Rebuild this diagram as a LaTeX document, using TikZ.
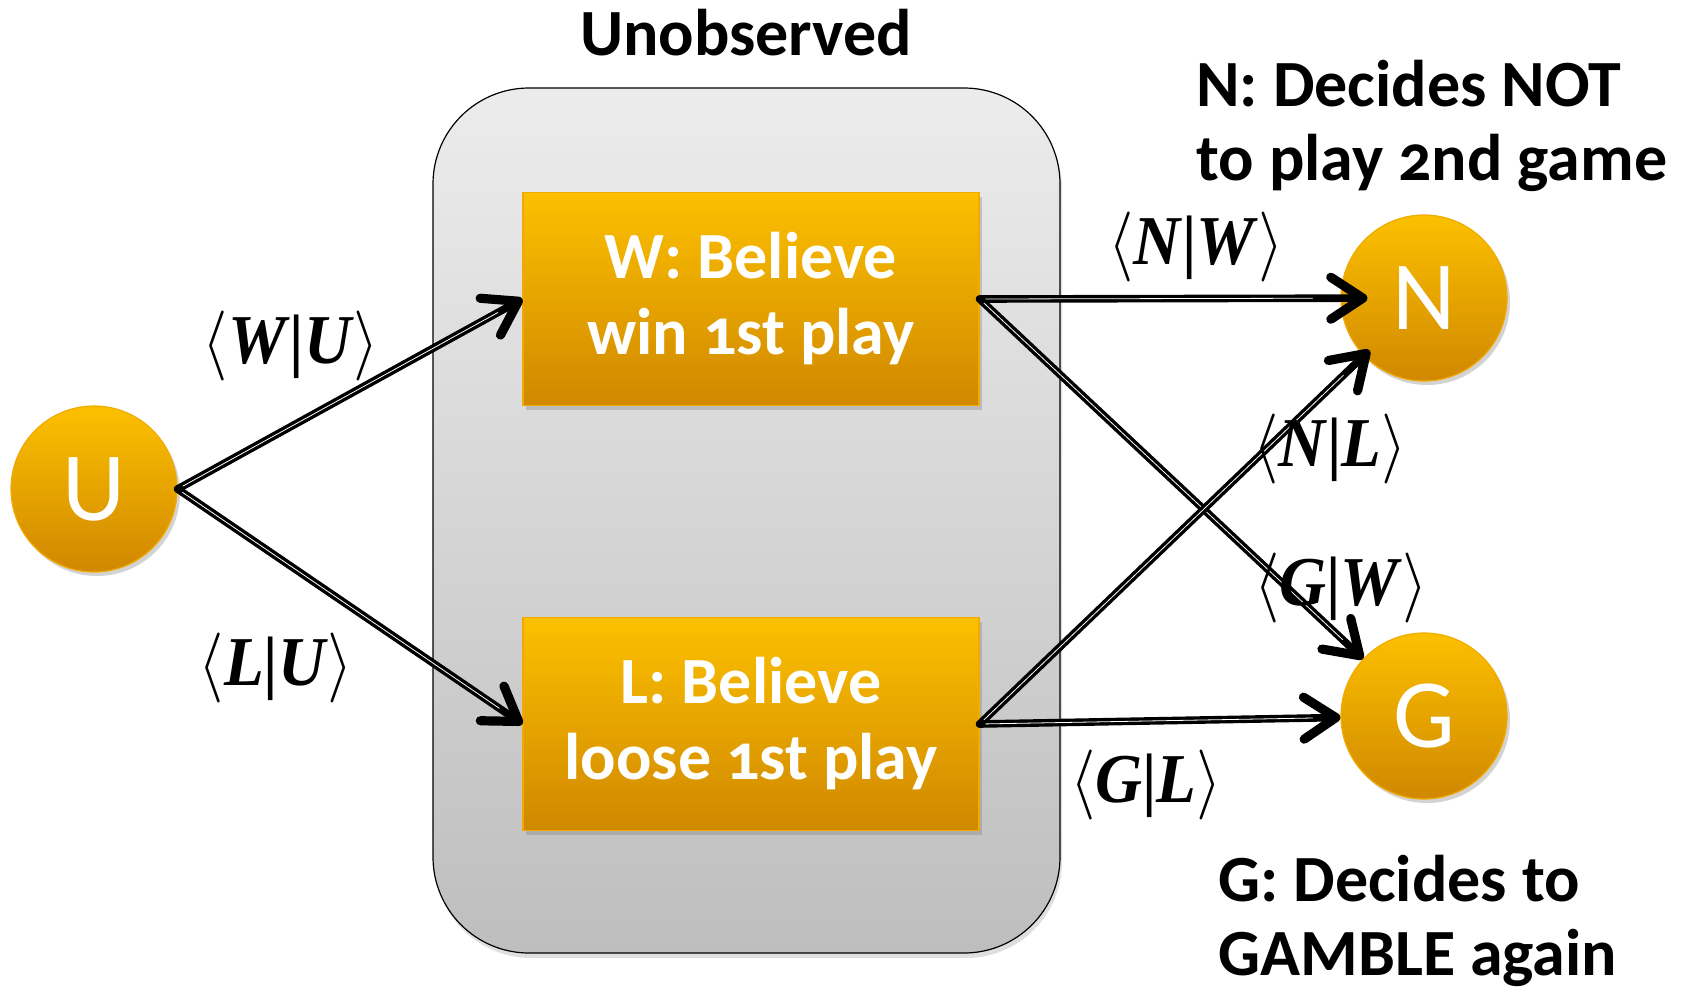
\RequirePackage{fix-cm}
\documentclass[tikz,border=0pt]{standalone}
\usepackage{fontspec}
\usepackage{graphicx}
\usetikzlibrary{arrows.meta}
\usetikzlibrary{shadows}
\setmainfont{Carlito}[Numbers=OldStyle]
\newfontfamily\probfont{Liberation Serif}
\definecolor{ambertop}{RGB}{252,192,0}
\definecolor{amberbot}{RGB}{208,136,0}
\definecolor{amberline}{RGB}{240,170,0}
\definecolor{greytop}{RGB}{236,236,236}
\definecolor{greybot}{RGB}{190,190,190}
\newcommand{\cnd}[2]{\scalebox{.93}[1]{$\langle$\textbf{\textit{#1}}\textbf{|}\textbf{\textit{#2}}$\rangle$}}

\begin{document}
\begin{tikzpicture}[x=0.5pt, y=-0.5pt,
  state/.style={rectangle, draw=amberline, line width=0.6pt, top color=ambertop, bottom color=amberbot,
    minimum width=228pt, minimum height=106.5pt, align=center, text=white,
    font=\fontsize{33}{38}\selectfont\bfseries,
    drop shadow={opacity=.35, shadow xshift=1.5pt, shadow yshift=-2pt}},
  choice/.style={circle, draw=amberline, line width=0.6pt, top color=ambertop, bottom color=amberbot,
    minimum size=83pt, inner sep=0pt, text=white, font=\fontsize{49}{49}\selectfont,
    drop shadow={opacity=.35, shadow xshift=1.5pt, shadow yshift=-2pt}},
  caption/.style={font=\fontsize{33}{37}\selectfont\bfseries, inner sep=0pt},
  prob/.style={font=\fontsize{35}{40}\selectfont\probfont, inner sep=0pt},
  link/.style={line width=3.8pt, line cap=round,
    -{Straight Barb[length=16pt, width=21pt, line width=4.6pt, round]},
    postaction={draw=white, line width=0.4pt, -, shorten >=14pt, shorten <=3pt}},
  into/.style={shorten >=-#1}]
\useasboundingbox (0,0) rectangle (1682,987);

% hidden layer
\node (unobs) [rectangle, rounded corners=48pt, draw, line width=0.6pt, top color=greytop, bottom color=greybot,
  minimum width=313.5pt, minimum height=432.5pt,
  drop shadow={opacity=.25, shadow xshift=1pt, shadow yshift=-2.5pt}] at (746.5,520.5) {};
\node (title) [caption, anchor=base] at (746,55) {Unobserved};

\node (W) [state] at (751,299) {W: Believe\\win 1st play};
\node (L) [state] at (751,724) {L: Believe\\loose 1st play};

\node (U) [choice] at (94,489) {U};
\node (N) [choice] at (1424,298) {N};
\node (G) [choice] at (1424,716) {G};

\node (ntext) [caption, anchor=base west, align=left] at (1196,180) {N: Decides NOT\\to play 2nd game};
\node (gtext) [caption, anchor=base west, align=left] at (1218,975) {G: Decides to\\GAMBLE again};

% transitions
\draw[link] (U.east) -- (W.west);
\draw[link] (U.east) -- (L.west);
\draw[link, into=13.5pt] (W.east) -- (N);
\draw[link] (W.east) -- (G);
\draw[link, into=4pt] (L.east) -- (N);
\draw[link] (L.east) -- (G);

\node (pWU) [prob] at (291,346) {\cnd{W}{U}};
\node (pLU) [prob] at (276,668) {\cnd{L}{U}};
\node (pNW) [prob] at (1196,247) {\cnd{N}{W}};
\node (pNL) [prob] at (1330,449) {\cnd{N}{L}};
\node (pGW) [prob] at (1341,588) {\cnd{G}{W}};
\node (pGL) [prob] at (1146,785) {\cnd{G}{L}};
\end{tikzpicture}
\end{document}
